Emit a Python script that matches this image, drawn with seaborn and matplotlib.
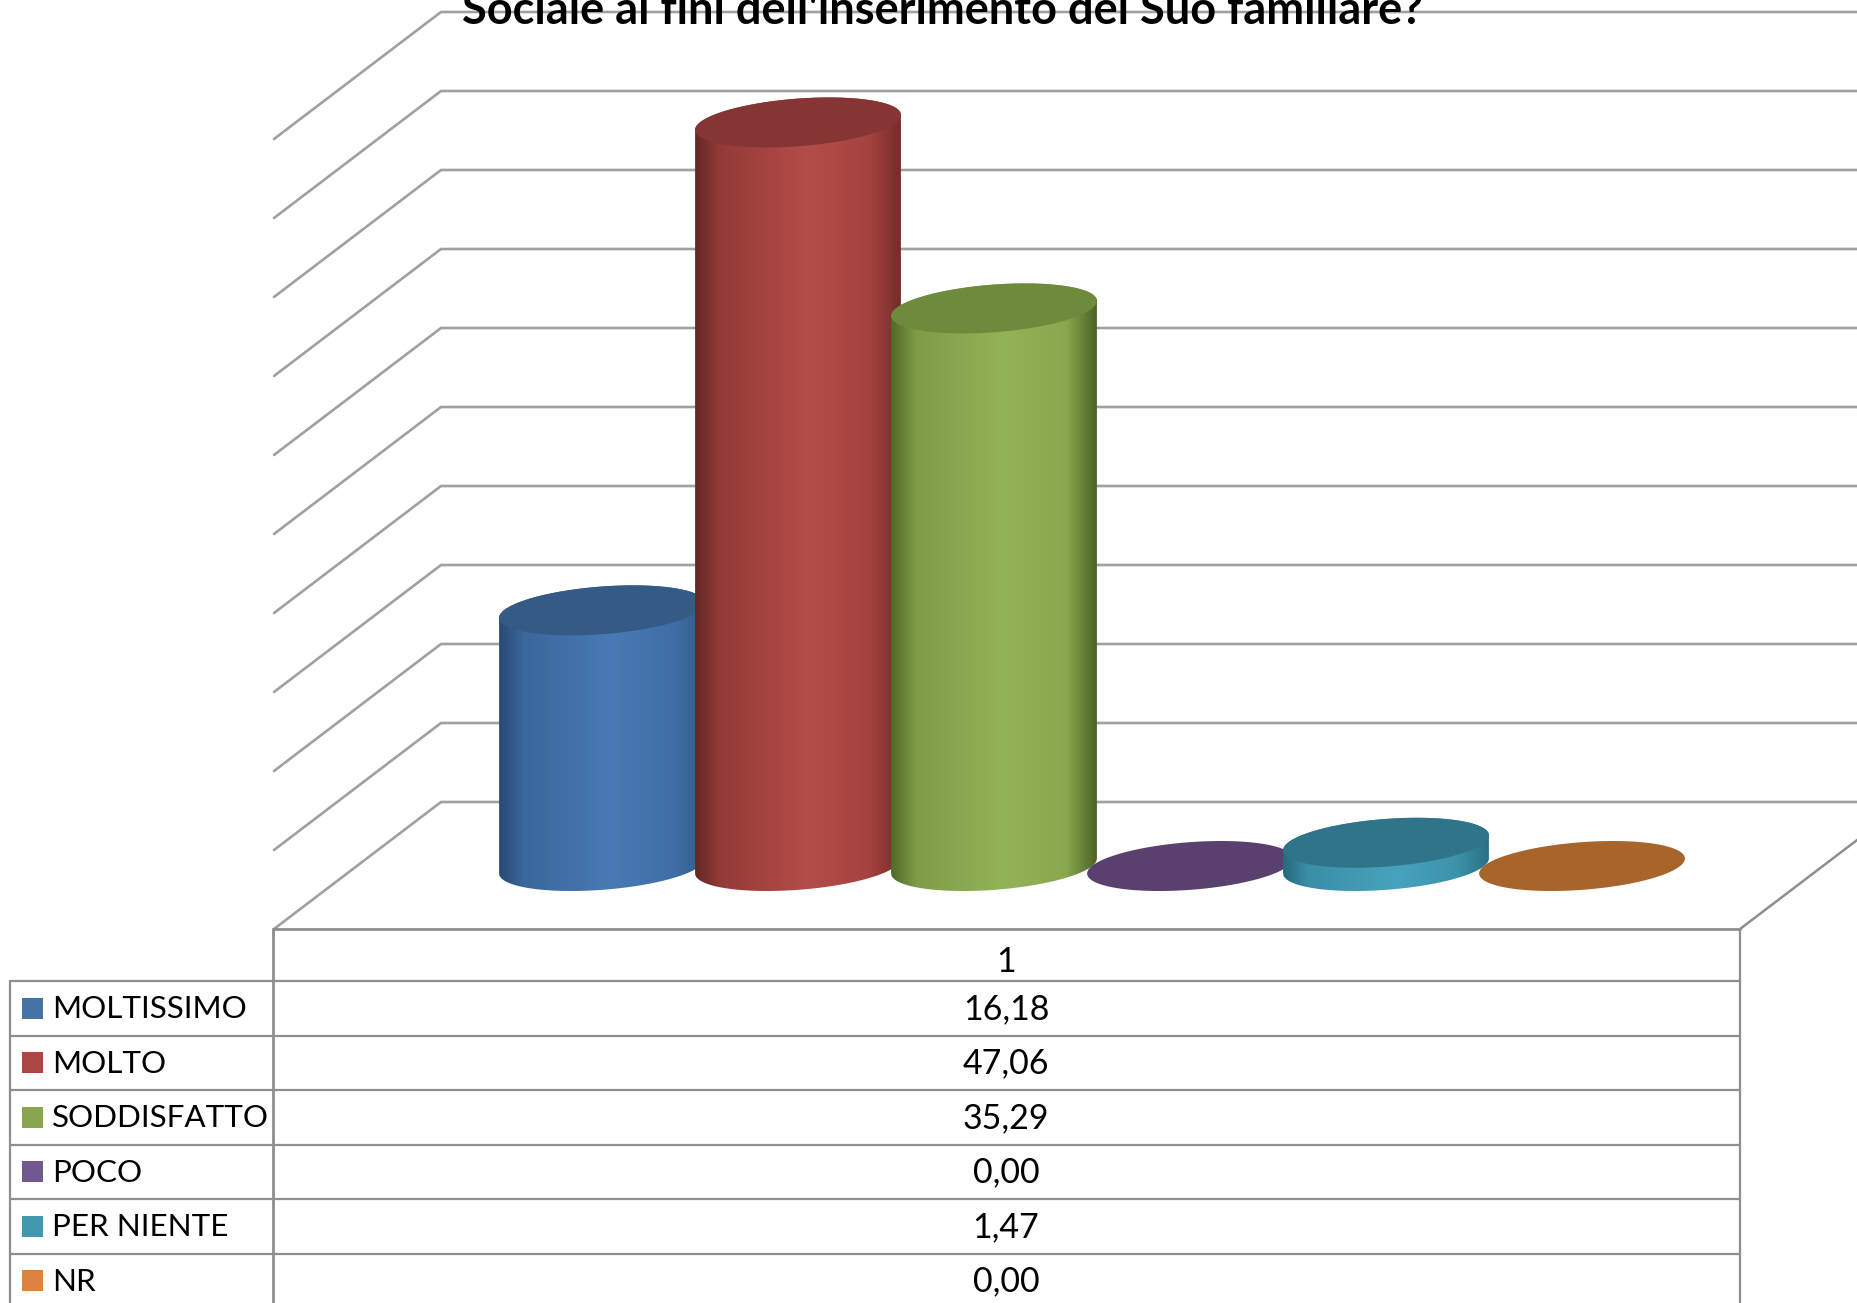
import numpy as np
import matplotlib
matplotlib.use("Agg")
import matplotlib.pyplot as plt
import seaborn as sns
from matplotlib.colors import LinearSegmentedColormap
from matplotlib.patches import Polygon

sns.set_theme(style="white")
plt.rcParams["font.family"] = ["Lato", "DejaVu Sans"]

categories = ["MOLTISSIMO", "MOLTO", "SODDISFATTO", "POCO", "PER NIENTE", "NR"]
values = [16.18, 47.06, 35.29, 0.00, 1.47, 0.00]
column_label = "1"
title = "Sociale ai fini dell'inserimento del Suo familiare?"
grid_ticks = [0, 5, 10, 15, 20, 25, 30, 35, 40, 45, 50]

legend_colors = ["#4572a7", "#aa4643", "#89a54e", "#71588f", "#4198af", "#db843d"]
cap_colors = ["#345a85", "#843534", "#6e8a3c", "#5a406e", "#2f7488", "#a8652b"]
side_colors = [
    ["#2a4a73", "#3a679c", "#4a7ab5", "#3f6ea6", "#315b8c"],
    ["#632725", "#933a37", "#b44d49", "#a5423f", "#752c2a"],
    ["#4f6a2b", "#7e9c45", "#93b358", "#8aa94f", "#4b6327"],
    ["#4a3560", "#65508a", "#7a62a0", "#6c5590", "#4d3866"],
    ["#256a7e", "#3a8ea6", "#47a3bd", "#3c92aa", "#2a7084"],
    ["#8a5222", "#c47835", "#dd8a42", "#c97c38", "#8f5524"],
]

W, H = 1858, 1303
PX_PER_UNIT = 15.8
BASE_Y = 866
FIRST_X = 602
STEP_X = 196
LINE = "#8e8e8e"

fig = plt.figure(figsize=(W / 100, H / 100), dpi=100, facecolor="white")

# frame, walls and table are in pixel space
frame = fig.add_axes([0, 0, 1, 1], zorder=0)
frame.set_xlim(0, W)
frame.set_ylim(H, 0)
frame.axis("off")

BACK_X, FRONT_X, RIGHT_X = 441, 274, 1740
BACK_ZERO_Y, FRONT_ZERO_Y = 802, 929
for tick in grid_ticks:
    dy = tick * PX_PER_UNIT
    frame.plot([FRONT_X, BACK_X, W], [FRONT_ZERO_Y - dy, BACK_ZERO_Y - dy, BACK_ZERO_Y - dy],
               color="#a0a0a0", lw=1.9, solid_joinstyle="miter")
frame.plot([RIGHT_X, W], [FRONT_ZERO_Y, FRONT_ZERO_Y - (W - RIGHT_X) * 0.76], color=LINE, lw=1.8)

frame.text(942, 24, title, ha="center", va="baseline", fontsize=32.5, fontweight="bold", color="black")

# table
TABLE_TOP = 981
ROW_H = 54.5
LEFT_X = 10
frame.plot([FRONT_X - 1, RIGHT_X], [FRONT_ZERO_Y, FRONT_ZERO_Y], color=LINE, lw=2.0)
frame.plot([FRONT_X - 1, FRONT_X - 1], [FRONT_ZERO_Y, H], color=LINE, lw=2.0)
frame.plot([RIGHT_X, RIGHT_X], [FRONT_ZERO_Y, H], color=LINE, lw=1.6)
frame.plot([LEFT_X, LEFT_X], [TABLE_TOP, H], color=LINE, lw=1.6)
frame.text(1006, 962, column_label, ha="center", va="center", fontsize=24.5, color="black")
for i, (cat, val, col) in enumerate(zip(categories, values, legend_colors)):
    top = TABLE_TOP + i * ROW_H
    mid = top + ROW_H / 2
    frame.plot([LEFT_X, RIGHT_X], [top, top], color=LINE, lw=1.6)
    frame.fill_between([22, 43], mid - 10.5, mid + 10.5, color=col, lw=0)
    frame.text(52, mid + 1, cat, ha="left", va="center", fontsize=22.6, color="black")
    frame.text(1006, mid + 1, f"{val:.2f}".replace(".", ","), ha="center", va="center", fontsize=24.5, color="black")
frame.plot([LEFT_X, RIGHT_X], [TABLE_TOP + 6 * ROW_H] * 2, color=LINE, lw=1.6)

# bars: value axis lined up with the base of the cylinders
ax = fig.add_axes([0, 0, 1, 1], zorder=1)
sns.barplot(x=categories, y=values, hue=categories, palette=legend_colors, width=1.05,
            dodge=False, legend=False, ax=ax)
xlim = (-FIRST_X / STEP_X, (W - FIRST_X) / STEP_X)
ylim = ((BASE_Y - H) / PX_PER_UNIT, BASE_Y / PX_PER_UNIT)

SHEAR = 7.5 / PX_PER_UNIT
CAP_B = 23.85 / PX_PER_UNIT
t = np.linspace(0, 2 * np.pi, 241)
bars = sorted(ax.patches, key=lambda p: p.get_x())
for i, bar in enumerate(bars):
    bar.set_visible(False)
    x0, w, h = bar.get_x(), bar.get_width(), bar.get_height()
    cx = x0 + w / 2
    ex = w / 2 * np.cos(t)
    ey = SHEAR * np.cos(t) + CAP_B * np.sin(t)
    z = 3 + i
    if h > 0:
        front = t >= np.pi
        back = t <= np.pi
        outline = np.r_[np.c_[cx + ex[front], ey[front]], np.c_[cx + ex[back], h + ey[back]]]
        clip = Polygon(outline, closed=True, transform=ax.transData, fc="none", ec="none")
        ax.add_patch(clip)
        cmap = LinearSegmentedColormap.from_list("side", list(zip([0, 0.12, 0.55, 0.85, 1], side_colors[i])))
        grad = np.linspace(0, 1, 256)[None, :]
        img = ax.imshow(grad, cmap=cmap, extent=[x0, x0 + w, -3, h + 3], aspect="auto", zorder=z,
                        interpolation="bilinear")
        img.set_clip_path(clip)
    cap = Polygon(np.c_[cx + ex, h + ey], closed=True, fc=cap_colors[i], ec="none", zorder=z + 0.5)
    ax.add_patch(cap)

ax.set_xlim(*xlim)
ax.set_ylim(*ylim)
ax.axis("off")

fig.savefig("out.png", dpi=100)
